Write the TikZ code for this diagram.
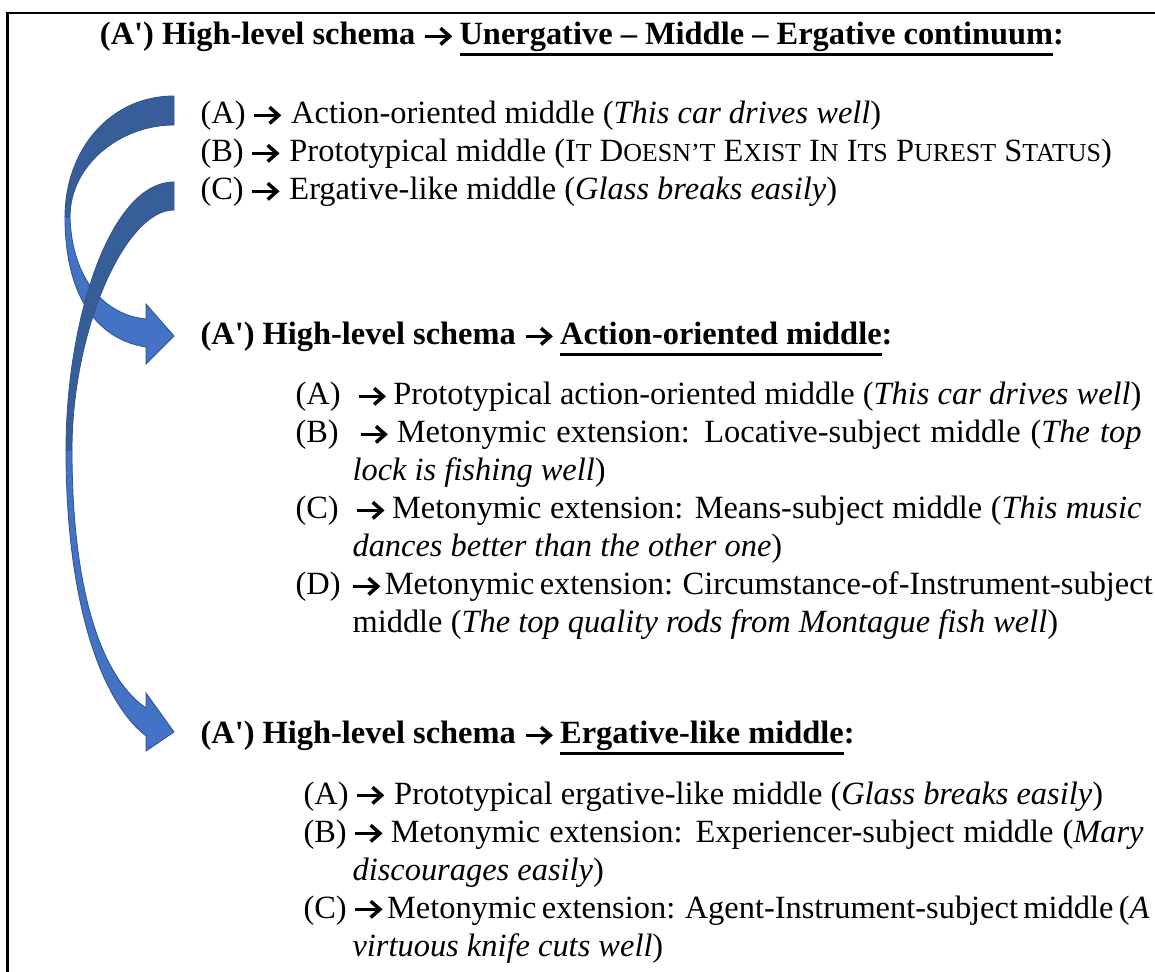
\documentclass[tikz,border=0pt]{standalone}
\usepackage{fontspec}
\setmainfont{Liberation Serif}[Ligatures=TeXOff]
\newcommand\arr{\tikz[baseline=-3.2pt]{\draw[line width=1.3pt] (0pt,0pt) -- (9pt,0pt); \draw[line width=1.3pt, line join=miter, miter limit=6] (5.7pt,3pt) -- (9.1pt,0pt) -- (5.7pt,-3pt);}}
\newcommand\myul[1]{\setbox0=\hbox{#1}\rlap{\rule[-4pt]{\wd0}{1.1pt}}\box0}
\newcommand\sck[1]{{\fontsize{9.6pt}{10pt}\selectfont #1}}
\definecolor{arrdark}{HTML}{375E98}
\definecolor{arrlight}{HTML}{4472C4}
\definecolor{arredge}{HTML}{2F528F}
\begin{document}
\begin{tikzpicture}[x=0.37pt, y=-0.37pt,
  txt/.style={anchor=base west, inner sep=0pt, font=\fontsize{12pt}{14pt}\selectfont},
  head/.style={txt, font=\fontsize{12pt}{14pt}\selectfont\bfseries},
  back/.style={fill=arrdark, draw=arredge, line width=0.3pt},
  front/.style={fill=arrlight, draw=arredge, line width=0.3pt}]
\useasboundingbox (0,0) rectangle (1155,972);
\clip (0,0) rectangle (1155,972);
\fill[white] (0,0) rectangle (1155,972);
% frame
\draw[line width=0.8pt] (1170,13) -- (7.5,13) -- (7.5,990);
% curved arrows
\draw[back] (174,96) .. controls (110,96) and (65,150) .. (65,217) -- (70,217) .. controls (70,165) and (120,125) .. (174,125) -- cycle;
\draw[front] (65,217) .. controls (65,300) and (100,340) .. (146,347) -- (146,364) -- (174,336) -- (146,304) -- (146,319) .. controls (105,315) and (72,280) .. (70,217) -- cycle;
\draw[back] (174,182) .. controls (110,182) and (66,320) .. (66,450) -- (72,450) .. controls (72,330) and (125,210) .. (174,210) -- cycle;
\draw[front] (66,450) .. controls (66,600) and (100,700) .. (146,736) -- (146,751) -- (174,732) -- (146,693) -- (146,708) .. controls (105,680) and (72,600) .. (72,450) -- cycle;
% title
\node[head, anchor=base] (title) at (582,45) {(A') High-level schema \arr\ \myul{Unergative – Middle – Ergative continuum}:};
% top list
\node[txt] (t1) at (200,124) {(A)\hspace{2.5pt}\arr\hspace{4pt}Action-oriented middle (\textit{This car drives well})};
\node[txt] (t2) at (200,162) {(B)\hspace{2.5pt}\arr\hspace{4pt}Prototypical middle (I\sck{T} D\sck{OESN’T} E\sck{XIST} I\sck{N} I\sck{TS} P\sck{UREST} S\sck{TATUS})};
\node[txt] (t3) at (200,200) {(C)\hspace{2.5pt}\arr\hspace{4pt}Ergative-like middle (\textit{Glass breaks easily})};
% heading 2
\node[head] (h2) at (200,345) {(A') High-level schema \arr\ \myul{Action-oriented middle}:};
\node[txt] (a1) at (295,405) {\makebox[313pt][s]{(A)\ \ \arr\ Prototypical action-oriented middle (\textit{This car drives well})}};
\node[txt] (a2) at (295,443) {\makebox[313pt][s]{(B)\ \ \arr\ Metonymic extension: Locative-subject middle (\textit{The top}}};
\node[txt] (a3) at (352,481) {\textit{lock is fishing well})};
\node[txt] (a4) at (295,519) {\makebox[313pt][s]{(C)\ \ \arr\ Metonymic extension: Means-subject middle (\textit{This music}}};
\node[txt] (a5) at (352,557) {\textit{dances better than the other one})};
\node[txt] (a6) at (295,595) {\makebox[313pt][s]{(D)\ \ \arr\ Metonymic extension: Circumstance-of-Instrument-subject}};
\node[txt] (a7) at (352,633) {middle (\textit{The top quality rods from Montague fish well})};
% heading 3
\node[head] (h3) at (200,744) {(A') High-level schema \arr\ \myul{Ergative-like middle}:};
\node[txt] (b1) at (303,804) {(A)\hspace{2.5pt}\arr\hspace{4pt}Prototypical ergative-like middle (\textit{Glass breaks easily})};
\node[txt] (b2) at (303,842) {\makebox[310.8pt][s]{(B)\hspace{2.5pt}\arr\ Metonymic extension: Experiencer-subject middle (\textit{Mary}}};
\node[txt] (b3) at (352,880) {\textit{discourages easily})};
\node[txt] (b4) at (303,918) {\makebox[310.8pt][s]{(C)\hspace{2.5pt}\arr\ Metonymic extension: Agent-Instrument-subject middle (\textit{A}}};
\node[txt] (b5) at (352,956) {\textit{virtuous knife cuts well})};
\end{tikzpicture}
\end{document}
